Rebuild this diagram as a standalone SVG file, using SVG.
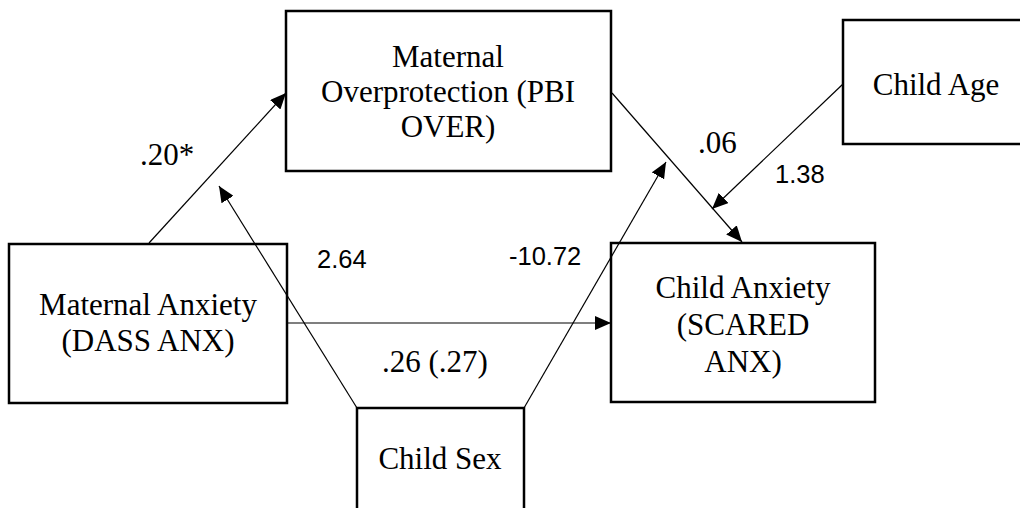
<svg xmlns="http://www.w3.org/2000/svg" width="1020" height="508" viewBox="0 0 1020 508">
<style>
.box{fill:none;stroke:#000;stroke-width:2.5}
.t{font-family:"Liberation Serif","Times New Roman",serif;font-size:31px;fill:#000;text-anchor:middle}
.lab{font-family:"Liberation Serif","Times New Roman",serif;font-size:31px;fill:#000}
.num{font-family:"Liberation Sans",Arial,sans-serif;font-size:25.5px;fill:#000}
.c{stroke:#000;stroke-width:1.2;fill:none;marker-end:url(#ah)}
</style>
<defs>
<marker id="ah" markerUnits="userSpaceOnUse" markerWidth="16" markerHeight="14" refX="16" refY="7" orient="auto">
<path d="M0,0 L16,7 L0,14 z" fill="#000"/>
</marker>
</defs>
<rect width="1020" height="508" fill="#fff"/>
<g id="node-overprotection">
<rect class="box" x="286" y="11" width="325" height="160"/>
<text class="t" x="448" y="67">Maternal</text>
<text class="t" x="448" y="102">Overprotection (PBI</text>
<text class="t" x="448" y="137">OVER)</text>
</g>
<g id="node-childage">
<rect class="box" x="843" y="20" width="190" height="124"/>
<text class="t" x="936" y="95">Child Age</text>
</g>
<g id="node-maternalanxiety">
<rect class="box" x="9" y="244" width="278" height="159"/>
<text class="t" x="148" y="315">Maternal Anxiety</text>
<text class="t" x="148" y="351">(DASS ANX)</text>
</g>
<g id="node-childanxiety">
<rect class="box" x="611" y="243" width="264" height="159"/>
<text class="t" x="743" y="298">Child Anxiety</text>
<text class="t" x="743" y="335">(SCARED</text>
<text class="t" x="743" y="372">ANX)</text>
</g>
<g id="node-childsex">
<rect class="box" x="357" y="408" width="167" height="110"/>
<text class="t" x="440" y="469">Child Sex</text>
</g>
<g id="connectors">
<line class="c" x1="149" y1="243" x2="286" y2="93"/>
<line class="c" x1="357" y1="408" x2="219" y2="186"/>
<line class="c" x1="287" y1="323" x2="611" y2="323"/>
<line class="c" x1="612" y1="93" x2="742" y2="242"/>
<line class="c" x1="843" y1="84" x2="712" y2="209"/>
<line class="c" x1="524" y1="408" x2="666" y2="162"/>
</g>
<g id="labels">
<text class="lab" x="140" y="165">.20*</text>
<text class="lab" x="698" y="153">.06</text>
<text class="lab" x="382" y="372">.26 (.27)</text>
<text class="num" x="317" y="268">2.64</text>
<text class="num" x="509" y="265">-10.72</text>
<text class="num" x="775" y="183">1.38</text>
</g>
</svg>
